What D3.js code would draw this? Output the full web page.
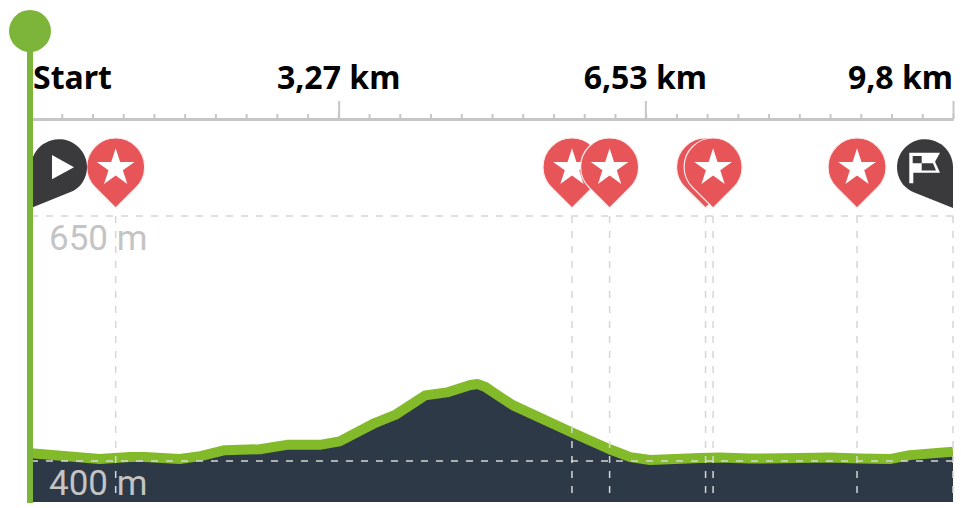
<html>
<head>
    <title>Elevation profile</title>
    <meta charset="UTF-8" />
    <script src="https://d3js.org/d3.v7.min.js"></script>
    <style>
        body { margin: 0; background: white; }
        svg { display: block; }
        .distance-axis .domain { stroke: #c6c6c6; stroke-width: 3; }
        .distance-axis line { stroke: #c6c6c6; stroke-width: 2; }
        .gridlines line { stroke: #d6d6d6; stroke-width: 1.5; stroke-dasharray: 7 8; }
    </style>
</head>
<body>
    <svg height="508" width="961" id="svg1"></svg>
    <script>
        // values
        const profileKm = [0, 0.73, 0.89, 1.05, 1.21, 1.58, 1.80, 2.06, 2.43, 2.72, 3.07, 3.28, 3.66, 3.87, 4.19, 4.42, 4.67, 4.75, 4.83, 4.93, 5.12, 5.75, 6.15, 6.37, 6.58, 7.11, 7.32, 7.64, 8.17, 8.49, 8.81, 9.13, 9.34, 9.80];
        const profileElev = [408, 402, 403, 404, 404, 402, 405, 411, 412, 416.5, 416.5, 420, 439, 447, 467, 470, 477.5, 478.5, 475.5, 469, 457, 429, 412, 404, 401, 403, 403.5, 402.5, 403, 403.5, 402.5, 402, 406, 409.5];

        const poiKm = [0.90, 5.75, 6.15, 7.17, 7.25, 8.78];
        const startKm = 0;
        const finishKm = 9.8;

        const majorTicks = [0, 3.27, 6.53, 9.8];
        const majorLabels = ["Start", "3,27 km", "6,53 km", "9,8 km"];
        const elevTicks = [650, 400];
        const elevLabels = ["650 m", "400 m"];

        const svg1 = d3.select("svg#svg1");

        const x = d3.scaleLinear().domain([0, 9.8]).range([31, 953]);
        const y = d3.scaleLinear().domain([400, 650]).range([461, 216]);
        const bottom = 502;

        const points = profileKm.map((d, i) => [d, profileElev[i]]);

        // dark profile + green edge
        const areaGen = d3.area().x(d => x(d[0])).y0(bottom).y1(d => y(d[1]) + 3);
        const lineGen = d3.line().x(d => x(d[0])).y(d => y(d[1]));

        svg1.append("defs").append("clipPath").attr("id", "plot")
            .append("rect").attr("x", x(0)).attr("y", 0).attr("width", x(9.8) - x(0)).attr("height", 508);

        const chartArea = svg1.append("g").attr("clip-path", "url(#plot)");
        chartArea.append("path").attr("d", areaGen(points)).attr("fill", "#2d3946");
        chartArea.append("path").attr("d", lineGen(points))
            .attr("fill", "none").attr("stroke", "#82ba2a").attr("stroke-width", 10)
            .attr("stroke-linejoin", "round");

        // dashed gridlines
        const grid = svg1.append("g").attr("class", "gridlines");
        grid.selectAll("line.h").data(elevTicks).join("line").attr("class", "h")
            .attr("x1", x(0)).attr("x2", x(9.8))
            .attr("y1", d => y(d)).attr("y2", d => y(d));
        grid.selectAll("line.v").data(poiKm.concat([finishKm])).join("line").attr("class", "v")
            .attr("x1", d => x(d)).attr("x2", d => x(d))
            .attr("y1", y(650)).attr("y2", bottom - 7);

        // elevation labels
        svg1.selectAll("text.elev").data(elevTicks).join("text").attr("class", "elev")
            .attr("x", 49).attr("y", d => y(d) + 34)
            .attr("font-family", "Roboto").attr("font-size", 35)
            .attr("fill", "#c4c4c4")
            .text((d, i) => elevLabels[i]);

        // distance axis
        const minorTicks = d3.range(0, 31).map(i => i * 9.8 / 30);
        const axisMinor = d3.axisTop(x).tickValues(minorTicks).tickSize(5).tickFormat("").tickSizeOuter(0);
        const axisMajor = d3.axisTop(x).tickValues(majorTicks).tickSize(18).tickFormat("").tickSizeOuter(0);
        svg1.append("g").attr("class", "distance-axis").attr("transform", "translate(0,119)").call(axisMinor);
        svg1.append("g").attr("class", "distance-axis").attr("transform", "translate(0,119)").call(axisMajor);

        svg1.selectAll("text.km").data(majorTicks).join("text").attr("class", "km")
            .attr("x", (d, i) => i === 0 ? x(d) + 2 : x(d)).attr("y", 89)
            .attr("text-anchor", (d, i) => i === 0 ? "start" : i === majorTicks.length - 1 ? "end" : "middle")
            .attr("font-family", "Noto Sans").attr("font-weight", 700).attr("font-size", 32)
            .attr("fill", "#000")
            .text((d, i) => majorLabels[i]);

        // pin shapes, relative to the tip of the pin
        const pinPath = "M0,0 L-20.5,-20.5 A29,29 0 1 1 20.5,-20.5 Z";
        const startPin = "M0,0 L0,-41 A28,28 0 1 1 50,-23.5 C47,-20 45,-19 42,-17 Z";
        const finishPin = "M0,0 L0,-41 A28,28 0 1 0 -50,-23.5 C-47,-20 -44,-18 -40,-16 Z";
        const tipY = 208;

        const pins = svg1.selectAll("g.poi").data(poiKm).join("g").attr("class", "poi")
            .attr("transform", d => "translate(" + x(d) + "," + tipY + ")");
        pins.append("path").attr("d", pinPath).attr("fill", "#e85558")
            .attr("stroke", "#fdeaea").attr("stroke-width", 1.2).attr("stroke-linejoin", "round");
        pins.append("path").attr("d", d3.symbol(d3.symbolStar, 440))
            .attr("transform", "translate(0,-40)").attr("fill", "white");

        const startG = svg1.append("g").attr("transform", "translate(" + x(startKm) + "," + tipY + ")");
        startG.append("path").attr("d", startPin).attr("fill", "#3a3a3c");
        startG.append("path").attr("d", "M21,-53 L43,-40.7 L21,-28.7 Z").attr("fill", "white");

        const finishG = svg1.append("g").attr("transform", "translate(" + x(finishKm) + "," + tipY + ")");
        finishG.append("path").attr("d", finishPin).attr("fill", "#3a3a3c");
        // flag
        finishG.append("path").attr("d", "M-43.7,-24.7 L-43.7,-55.3 L-13,-55.3 L-18,-46.3 L-13,-35.3 L-39.7,-35.3 L-39.7,-24.7 Z")
            .attr("fill", "white");
        finishG.append("path").attr("d", "M-40.3,-52 L-31.3,-52 L-31.3,-44.7 L-40.3,-44.7 Z M-31.3,-44.7 L-20,-44.7 L-17,-37.5 L-31.3,-37.5 Z")
            .attr("fill", "#3a3a3c");

        // position marker
        svg1.append("line").attr("x1", 30).attr("x2", 30).attr("y1", 30).attr("y2", 503)
            .attr("stroke", "#7cb53a").attr("stroke-width", 6);
        svg1.append("circle").attr("cx", 30).attr("cy", 31).attr("r", 21).attr("fill", "#7cb53a");
    </script>
</body>
</html>
